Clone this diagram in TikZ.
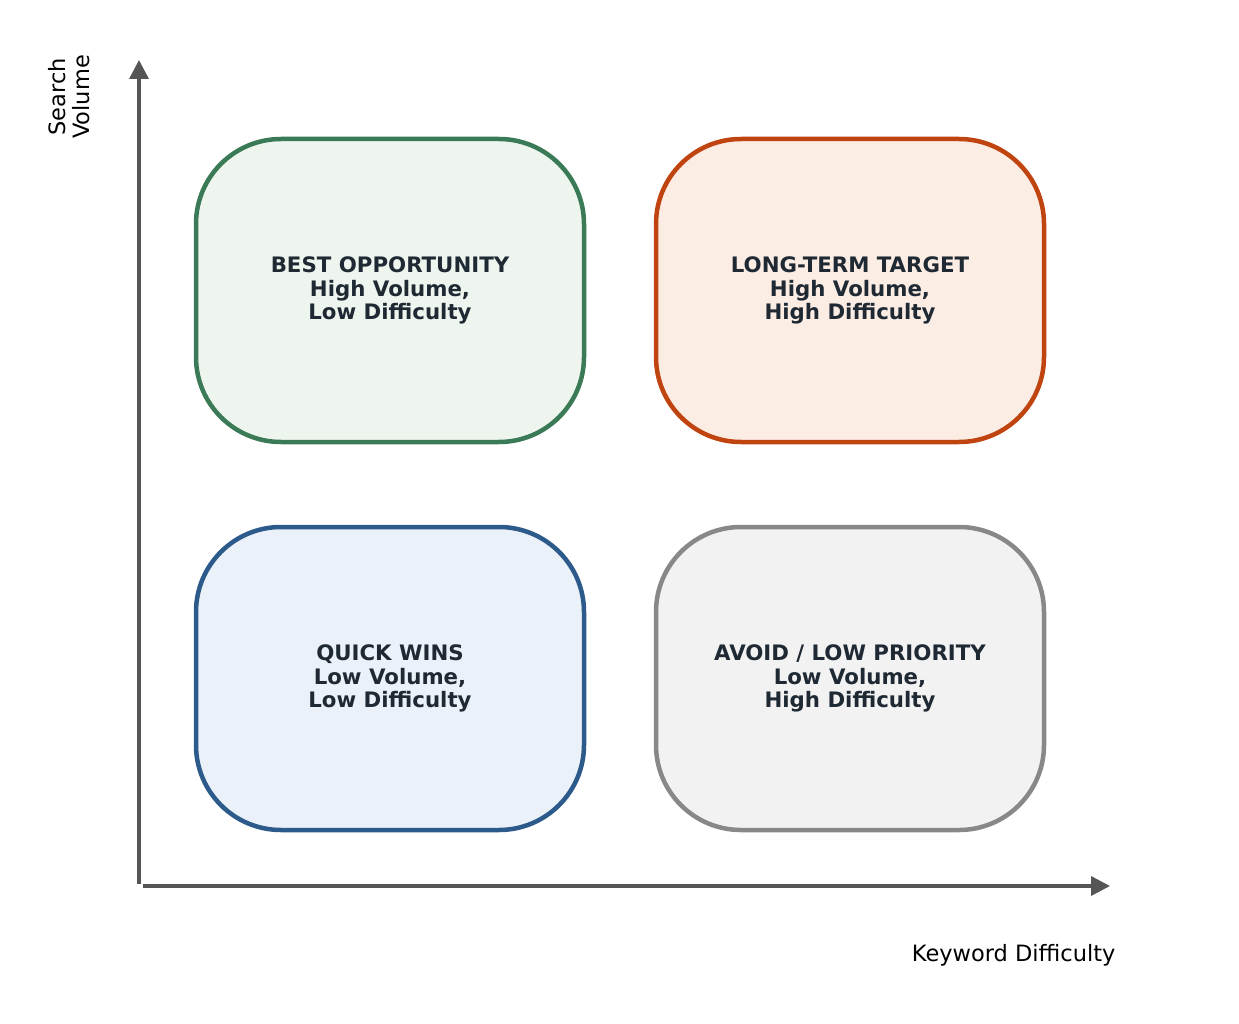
\documentclass[tikz,border=0pt]{standalone}
\usepackage{fontspec}
\setmainfont{DejaVu Sans}
\usetikzlibrary{arrows.meta}
\definecolor{axisc}{HTML}{555555}
\definecolor{txt}{HTML}{1F2933}
\definecolor{gS}{HTML}{3A7A56}\definecolor{gF}{HTML}{EEF5EE}
\definecolor{oS}{HTML}{C0440F}\definecolor{oF}{HTML}{FBECE4}
\definecolor{bS}{HTML}{2C5A8A}\definecolor{bF}{HTML}{EAF1F9}
\definecolor{yS}{HTML}{888888}\definecolor{yF}{HTML}{F2F2F2}
\tikzset{
  quad/.style={draw=#1S,fill=#1F,line width=4.5pt,rounded corners=85pt,minimum width=388pt,minimum height=303pt,inner sep=0pt,
    font=\fontsize{21.3}{23.8}\selectfont\bfseries,text=txt,align=center},
  axisline/.style={draw=axisc,line width=3.5pt,-{Triangle[length=19pt,width=19pt]}},
  axlabel/.style={font=\fontsize{22.5}{24.5}\selectfont,text=black}
}
\begin{document}
\begin{tikzpicture}[x=1pt,y=-1pt]
\useasboundingbox (0,0) rectangle (1239,1024);
\coordinate (ytip) at (139,60);
\coordinate (xtip) at (1110,886);
\coordinate (ybot) at (139,884);
\coordinate (xstart) at (143,886);
\draw[axisline] (ybot) -- (ytip);
\draw[axisline] (xstart) -- (xtip);
\node[quad=g] (best) at (390,290.5) {BEST OPPORTUNITY\\High Volume,\\Low Difficulty};
\node[quad=o] (long) at (850,290.5) {LONG-TERM TARGET\\High Volume,\\High Difficulty};
\node[quad=b] (quick) at (390,678.5) {QUICK WINS\\Low Volume,\\Low Difficulty};
\node[quad=y] (avoid) at (850,678.5) {AVOID / LOW PRIORITY\\Low Volume,\\High Difficulty};
\node[axlabel,rotate=90,align=center] (ylab) at (69,97) {Search\\Volume};
\node[axlabel,anchor=east] (xlab) at (1119,955) {Keyword Difficulty};
\end{tikzpicture}
\end{document}
